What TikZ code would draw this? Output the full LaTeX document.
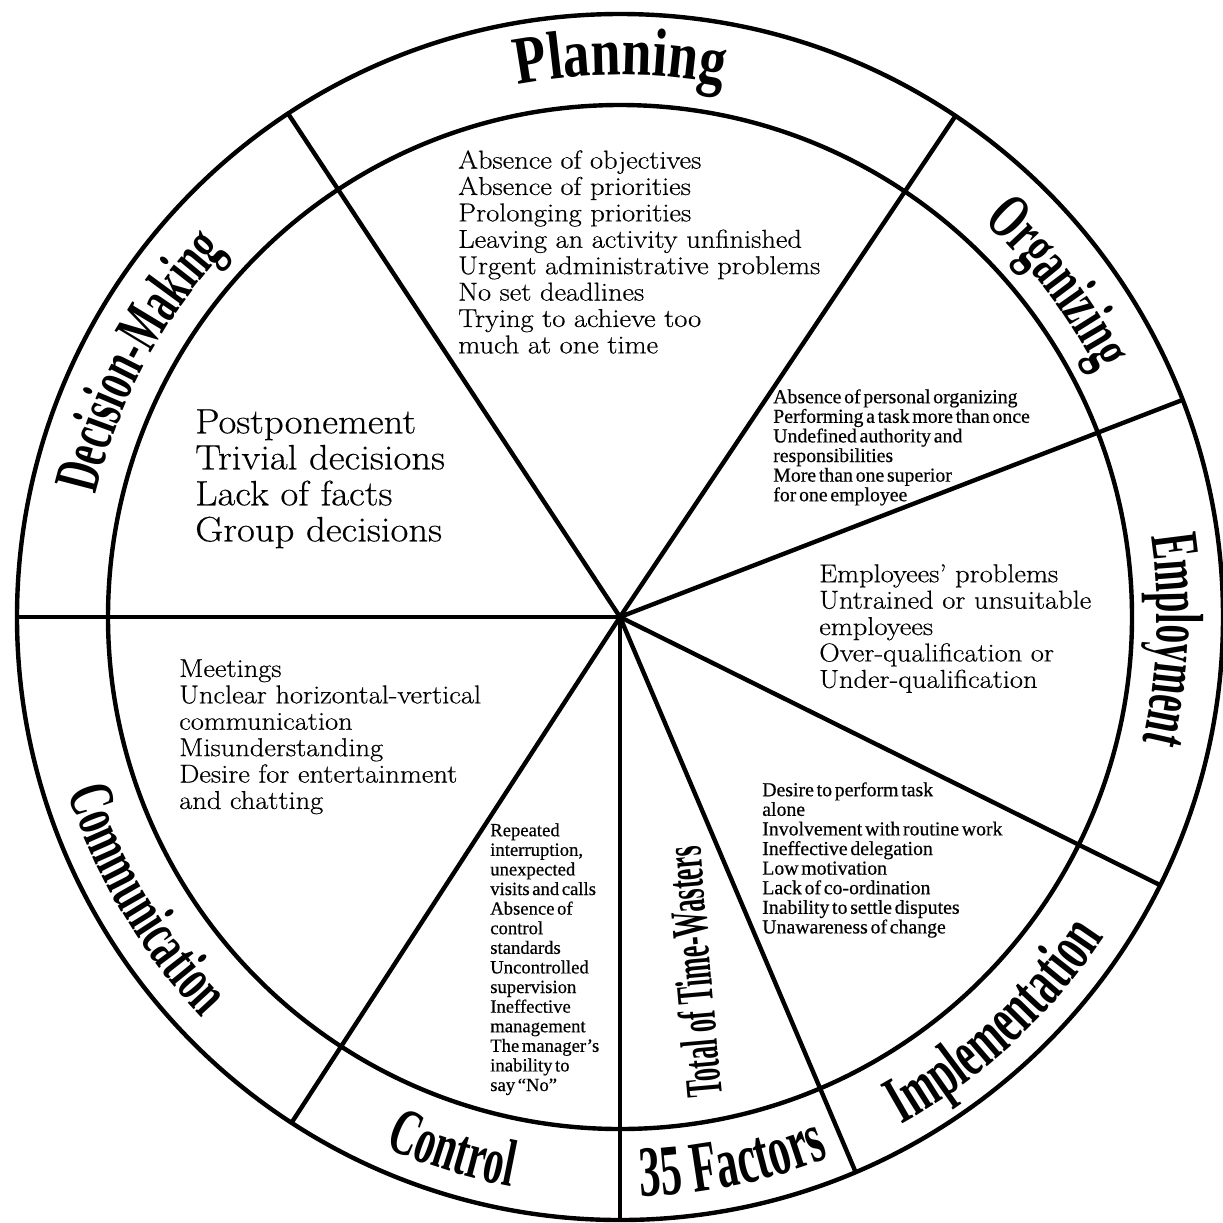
\documentclass[tikz,border=0pt]{standalone}
\usepackage{fontspec}
\usepackage{tikz}
\usetikzlibrary{decorations.text}

\newfontfamily\ringwide[FakeStretch=0.79]{Liberation Serif Bold}
\newfontfamily\ringnarrow[FakeStretch=0.6]{Liberation Serif Bold}
\newfontfamily\ringtight[FakeStretch=0.55]{Liberation Serif Bold}
\newfontfamily\ringcramped[FakeStretch=0.5]{Liberation Serif Bold}
\newfontfamily\smallserif[WordSpace=0.55,FakeBold=0.5]{Liberation Serif}
\newfontfamily\wheelserif[FakeStretch=1.1,FakeBold=0.5]{Latin Modern Roman}

\newcommand\planningfont{\ringwide\fontsize{51}{51}\selectfont}
\newcommand\organizingfont{\ringnarrow\fontsize{49}{49}\selectfont}
\newcommand\employmentfont{\ringtight\fontsize{51}{51}\selectfont}
\newcommand\implementationfont{\ringnarrow\fontsize{51}{51}\selectfont}
\newcommand\factorsfont{\ringnarrow\fontsize{54}{54}\selectfont}
\newcommand\controlfont{\ringnarrow\fontsize{50}{50}\selectfont}
\newcommand\communicationfont{\ringnarrow\fontsize{48}{48}\selectfont}
\newcommand\decisionfont{\ringnarrow\fontsize{48}{48}\selectfont}
\newcommand\totalfont{\ringcramped\fontsize{39.6}{39.6}\selectfont}

\tikzset{
  rim/.style={line width=3.3pt},
  spoke/.style={line width=3.3pt},
  list/.style={font=\wheelserif\fontsize{19.4}{19.8}\selectfont},
  biglist/.style={font=\wheelserif\fontsize{26.4}{27}\selectfont},
  smalllist/.style={font=\smallserif\fontsize{14.85}{14.7}\selectfont},
}

\begin{document}
\begin{tikzpicture}[x=0.75pt,y=0.75pt,yscale=-1,xscale=1]

\useasboundingbox (0,0) rectangle (1223,1222);

\coordinate (c) at (620,617);

% wheel
\draw[rim] (c) circle (603);
\draw[rim] (c) circle (512);

\draw[spoke] (c) -- ++(180:603);
\draw[spoke] (c) -- ++(-123.4:603);
\draw[spoke] (c) -- ++(-56.2:603);
\draw[spoke] (c) -- ++(-21.1:603);
\draw[spoke] (c) -- ++(26.4:603);
\draw[spoke] (c) -- ++(67:603);
\draw[spoke] (c) -- ++(90:603);
\draw[spoke] (c) -- ++(123:603);

% ring labels
\begin{scope}[yscale=-1]
\path[decorate,decoration={text along path,text align=center,text={|\planningfont|Planning}}] (c) ++(120:542) arc[start angle=120,end angle=60,radius=542];
\path[decorate,decoration={text along path,text align=center,text={|\organizingfont|Organizing}}] (c) ++(67.3:537) arc[start angle=67.3,end angle=7.3,radius=537];
\path[decorate,decoration={text along path,text align=center,text={|\employmentfont|Employment}}] (c) ++(27.6:537) arc[start angle=27.6,end angle=-32.4,radius=537];
\path[decorate,decoration={text along path,text align=center,text={|\decisionfont|Decision-Making}}] (c) ++(182:538) arc[start angle=182,end angle=122,radius=538];
\path[decorate,decoration={text along path,text align=center,text={|\implementationfont|Implementation}}] (c) ++(-77.2:580) arc[start angle=-77.2,end angle=-17.2,radius=580];
\path[decorate,decoration={text along path,text align=center,text={|\factorsfont|35 Factors}}] (c) ++(-108.4:580) arc[start angle=-108.4,end angle=-48.4,radius=580];
\path[decorate,decoration={text along path,text align=center,text={|\controlfont|Control}}] (c) ++(-137.4:580) arc[start angle=-137.4,end angle=-77.4,radius=580];
\path[decorate,decoration={text along path,text align=center,text={|\communicationfont|Communication}}] (c) ++(-179.3:579) arc[start angle=-179.3,end angle=-119.3,radius=579];
\end{scope}

\draw (693,972) node (totallabel) [rotate=95][font=\totalfont] {Total of Time-Wasters};

% time-wasters
\draw (457,149) node (planlist) [anchor=north west][inner sep=0.75pt][list][align=left] {Absence of objectives\\Absence of priorities\\Prolonging priorities\\Leaving an activity unfinished\\Urgent administrative problems\\No set deadlines\\Trying to achieve too\\much at one time};

\draw (194,408) node (decisionlist) [anchor=north west][inner sep=0.75pt][biglist][align=left] {Postponement\\Trivial decisions\\Lack of facts\\Group decisions};

\draw (772,388) node (organizinglist) [anchor=north west][inner sep=0.75pt][smalllist][align=left] {Absence of personal organizing\\Performing a task more than once\\Undefined authority and\\responsibilities\\More than one superior\\for one employee};

\draw (818,563) node (employmentlist) [anchor=north west][inner sep=0.75pt][list][align=left] {Employees’ problems\\Untrained or unsuitable\\employees\\Over-qualification or\\Under-qualification};

\draw (761,781) node (implementationlist) [anchor=north west][inner sep=0.75pt][smalllist][align=left] {Desire to perform task\\alone\\Involvement with routine work\\Ineffective delegation\\Low motivation\\Lack of co-ordination\\Inability to settle disputes\\Unawareness of change};

\draw (178,658) node (communicationlist) [anchor=north west][inner sep=0.75pt][list][align=left] {Meetings\\Unclear horizontal-vertical\\communication\\Misunderstanding\\Desire for entertainment\\and chatting};

\draw (489,822) node (controllist) [anchor=north west][inner sep=0.75pt][smalllist][font=\smallserif\fontsize{14}{14.7}\selectfont][align=left] {Repeated\\interruption,\\unexpected\\visits and calls\\Absence of\\control\\standards\\Uncontrolled\\supervision\\Ineffective\\management\\The manager’s\\inability to\\say “No”};

\end{tikzpicture}
\end{document}
